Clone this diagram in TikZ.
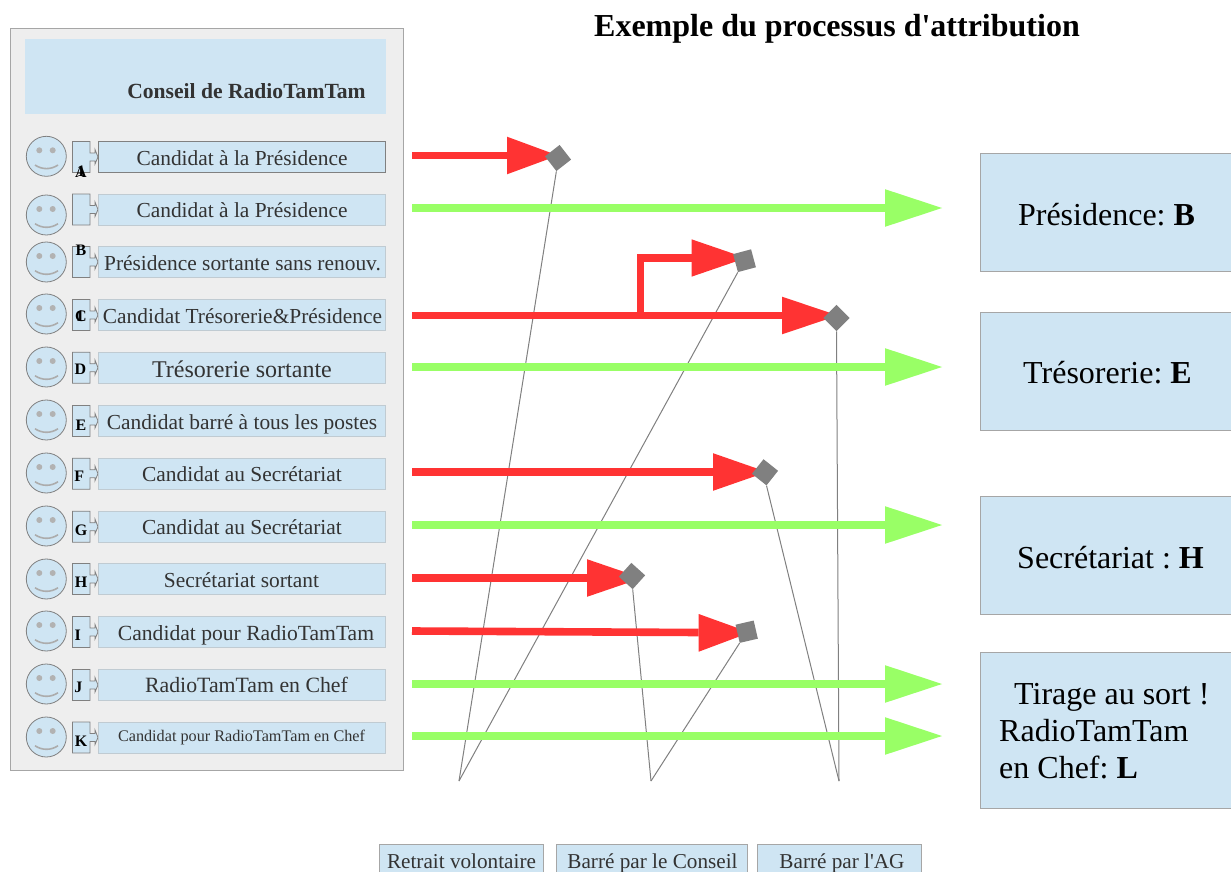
\documentclass[tikz,border=0pt]{standalone}
\usepackage{fontspec}
\setmainfont{Liberation Serif}[Ligatures=TeXOff]
\usetikzlibrary{arrows.meta}
\frenchspacing
\definecolor{lblue}{HTML}{CFE5F3}
\definecolor{panel}{HTML}{EEEEEE}
\definecolor{edgegray}{HTML}{A6A6A6}
\definecolor{boxedge}{HTML}{C0CBD2}
\definecolor{darktxt}{HTML}{333333}
\definecolor{redarrow}{HTML}{FF3333}
\definecolor{greenarrow}{HTML}{99FF66}
\definecolor{stampgray}{HTML}{808080}
\newcommand{\fs}[1]{\fontsize{#1}{#1}\selectfont}
\pgfdeclarelayer{front}
\pgfsetlayers{main,front}
\tikzset{
  x=1pt,y=-1pt,
  rolebox/.style={fill=lblue,draw=boxedge,line width=0.4pt,minimum height=31pt,minimum width=286.8pt,anchor=west,inner sep=0pt},
  roletext/.style={inner sep=0pt,anchor=base,text=darktxt},
  face/.style={circle,fill=lblue,draw=gray,line width=0.8pt,minimum size=40pt,inner sep=0pt},
  redline/.style={draw=redarrow,line width=7.6pt},
  greenline/.style={draw=greenarrow,line width=7.6pt},
  redtip/.style={fill=redarrow,draw=none},
  greentip/.style={fill=greenarrow,draw=none},
  stamp/.style={fill=stampgray,draw=none,minimum size=18.6pt,inner sep=0pt,shape=rectangle},
  link/.style={draw=gray,line width=1pt},
  result/.style={fill=lblue,draw=edgegray,line width=0.8pt,inner sep=0pt,anchor=north west,text=black},
  legend/.style={fill=lblue,draw=edgegray,line width=0.8pt,inner sep=0pt,anchor=north west,text=darktxt},
  letter/.style={inner sep=0pt,text=black,font=\fs{16}\bfseries},
}
\newcommand{\person}[3]{% name, face y, box y
  \node[face] (f#1) at (46.3,#2) {};
  \fill[gray!60] (39.3,#2-6) circle (3);
  \fill[gray!60] (52.7,#2-6) circle (3);
  \draw[gray!65,line width=1.6pt] (35,#2+8.7) .. controls (42,#2+13.5) and (51,#2+13.5) .. (58,#2+8.7);
  \draw[fill=lblue,draw=gray,line width=0.8pt] (72.5,#3-15.5) -- (90,#3-15.5) -- (90,#3-4) -- (95,#3-4) -- (95,#3-7.5) -- (98,#3) -- (95,#3+7) -- (95,#3+4) -- (90,#3+4) -- (90,#3+15.5) -- (72.5,#3+15.5) -- cycle;
}
\newcommand{\arr}[5]{% start, base x, y, style prefix, tip x
  \draw[#4line] (#1) -- (#2,#3);
  \fill[#4tip] (#2,#3-18.8) -- (#5,#3) -- (#2,#3+18.8) -- cycle;
}
\begin{document}
\begin{tikzpicture}
\useasboundingbox (0,0) rectangle (1231,872);
\fill[white] (0,0) rectangle (1231,872);
\node[inner sep=0pt,anchor=base,font=\fs{32}\bfseries] (title) at (837,37) {Exemple du processus d'attribution};
\node[fill=panel,draw=edgegray,line width=0.9pt,inner sep=0pt,minimum width=393.2pt,minimum height=742pt,anchor=north west] (panel) at (9.6,28) {};
\node[fill=lblue,inner sep=0pt,minimum width=361pt,minimum height=75pt,anchor=north west] (head) at (25,39) {};
\node[inner sep=0pt,anchor=base,font=\fs{21.6}\bfseries,text=darktxt] (headt) at (246.5,99) {Conseil de RadioTamTam};
% people
\person{a}{156.3}{157}
\person{b}{215}{209.5}
\person{c}{262}{262}
\person{d}{314}{315}
\person{e}{367}{367.7}
\person{f}{420}{421}
\person{g}{473}{473.7}
\person{h}{526}{526.7}
\person{i}{579}{579}
\person{j}{631}{632}
\person{k}{684}{685}
\person{l}{737}{737.5}
% role boxes
\node[rolebox,draw=gray] (ra) at (98,157) {};
\node[roletext,font=\fs{21.4}] (ta) at (242,165) {Candidat à la Présidence};
\node[rolebox] (rb) at (98,209.5) {};
\node[roletext,font=\fs{21.4}] (tb) at (242,217) {Candidat à la Présidence};
\node[rolebox] (rc) at (98,262) {};
\node[roletext,font=\fs{21.4}] (tc) at (242.5,270.5) {Présidence sortante sans renouv.};
\node[rolebox] (rd) at (98,315) {};
\node[roletext,font=\fs{21.4}] (td) at (242.5,323.5) {Candidat Trésorerie\&Présidence};
\node[rolebox] (re) at (98,367.7) {};
\node[roletext,font=\fs{24}] (te) at (242,377) {Trésorerie sortante};
\node[rolebox] (rf) at (98,421) {};
\node[roletext,font=\fs{21.4}] (tf) at (242,429) {Candidat barré à tous les postes};
\node[rolebox] (rg) at (98,473.7) {};
\node[roletext,font=\fs{21.4}] (tg) at (242,481) {Candidat au Secrétariat};
\node[rolebox] (rh) at (98,526.7) {};
\node[roletext,font=\fs{21.4}] (th) at (242,534) {Candidat au Secrétariat};
\node[rolebox] (ri) at (98,579) {};
\node[roletext,font=\fs{21.4}] (ti) at (241.5,587) {Secrétariat sortant};
\node[rolebox] (rj) at (98,632) {};
\node[roletext,font=\fs{21.6}] (tj) at (246,640) {Candidat pour RadioTamTam};
\node[rolebox] (rk) at (98,685) {};
\node[roletext,font=\fs{21.8}] (tk) at (246.5,692.5) {RadioTamTam en Chef};
\node[rolebox] (rl) at (98,737.5) {};
\node[roletext,font=\fs{16.2}] (tl) at (241.5,741) {Candidat pour RadioTamTam en Chef};
% letters
\node[letter] (l1) at (81,171.5) {1};
\node[letter] (l1a) at (81,172) {A};
\node[letter] (lb) at (81,250) {B};
\node[letter] (lc) at (81,316.5) {C};
\node[letter] (lc1) at (80,316.5) {1};
\node[letter] (ld) at (80.3,369) {D};
\node[letter] (le) at (81,425) {E};
\node[letter] (lf) at (79.3,476.7) {F};
\node[letter] (lg) at (81,530) {G};
\node[letter] (lh) at (81,582) {H};
\node[letter] (li) at (77.7,635.7) {I};
\node[letter] (lj) at (78.3,687.7) {J};
\node[letter] (lk) at (81,741) {K};
% results
\node[result,minimum width=255pt,minimum height=118pt] (pres) at (980,153.3) {};
\node[inner sep=0pt,anchor=base,font=\fs{32}] (tpres) at (1106.5,225) {Présidence: \textbf{B}};
\node[result,minimum width=255pt,minimum height=118.5pt] (tres) at (980,311.5) {};
\node[inner sep=0pt,anchor=base,font=\fs{32}] (ttres) at (1107.5,383.5) {Trésorerie: \textbf{E}};
\node[result,minimum width=255pt,minimum height=118pt] (secr) at (980,496) {};
\node[inner sep=0pt,anchor=base,font=\fs{32}] (tsecr) at (1110.5,568) {Secrétariat : \textbf{H}};
\node[result,minimum width=255pt,minimum height=156pt] (tira) at (980,651.7) {};
\node[inner sep=0pt,font=\fs{32},anchor=base west] (tir1) at (1014,704.5) {Tirage au sort !};
\node[inner sep=0pt,font=\fs{32},anchor=base west] (tir2) at (999,741.5) {RadioTamTam};
\node[inner sep=0pt,font=\fs{32},anchor=base west] (tir3) at (999,778.3) {en Chef: \textbf{L}};
% legend
\node[legend,minimum width=164pt,minimum height=40pt] (lg1) at (379,844) {};
\node[legend,minimum width=191pt,minimum height=40pt] (lg2) at (556,844) {};
\node[legend,minimum width=164pt,minimum height=40pt] (lg3) at (757,844) {};
\node[inner sep=0pt,anchor=base,font=\fs{21.2},text=darktxt] (tl1) at (461.5,868) {Retrait volontaire};
\node[inner sep=0pt,anchor=base,font=\fs{21.2},text=darktxt] (tl2) at (652.5,868) {Barré par le Conseil};
\node[inner sep=0pt,anchor=base,font=\fs{21.2},text=darktxt] (tl3) at (842,868) {Barré par l'AG};
% stamps sit above the arrows
\begin{pgfonlayer}{front}
\node[stamp,rotate=38] (s1) at (558,158) {};
\node[stamp,rotate=15] (s2) at (744.5,260.7) {};
\node[stamp,rotate=45] (s3) at (836.5,318) {};
\node[stamp,rotate=51.5] (s4) at (765,472.3) {};
\node[stamp,rotate=48] (s5) at (632,576) {};
\node[stamp,rotate=13] (s6) at (746.7,631.7) {};
\end{pgfonlayer}
% free ends
\coordinate (t1) at (459,781);
\coordinate (t2) at (651,781);
\coordinate (t3) at (839,781);
\coordinate (from1) at (412,155.5);
\coordinate (from2) at (412,208);
\coordinate (from3) at (412,315.5);
\coordinate (from4) at (412,367);
\coordinate (from5) at (412,472);
\coordinate (from6) at (412,525);
\coordinate (from7) at (412,578);
\coordinate (from8) at (412,631);
\coordinate (from9) at (412,684);
\coordinate (from10) at (412,736);
\coordinate (bend) at (640.3,315.5);
\coordinate (bend2) at (640.3,258);
% links
\draw[link] (s1.south west) -- (t1);
\draw[link] (s2.south west) -- (t1);
\draw[link] (s5.south west) -- (t2);
\draw[link] (s6.south west) -- (t2);
\draw[link] (s4.south west) -- (t3);
\draw[link] (s3.south west) -- (t3);
% arrows
\arr{from1}{507}{155.5}{red}{558}
\arr{from2}{885}{208}{green}{942}
\arr{from3}{782}{315.5}{red}{838}
\draw[redline] (bend) -- (bend2) -- (691.5,258);
\fill[redtip] (691.5,239.3) -- (746,258) -- (691.5,276.7) -- cycle;
\arr{from4}{885}{367}{green}{942}
\arr{from5}{713}{472}{red}{767}
\arr{from6}{885}{525}{green}{942}
\arr{from7}{587}{578}{red}{642}
\draw[redline] (from8) -- (698.7,632.5);
\fill[redtip] (698.7,614) -- (750,632.5) -- (698.7,651.7) -- cycle;
\arr{from9}{885}{684}{green}{942}
\arr{from10}{885}{736}{green}{942}
\end{tikzpicture}
\end{document}
